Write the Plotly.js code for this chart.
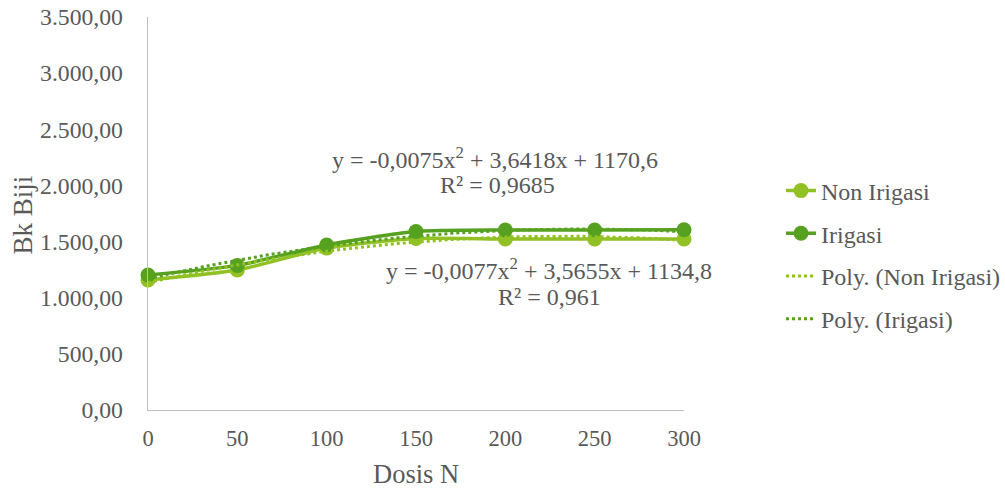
<!DOCTYPE html>
<html>
<head>
<meta charset="utf-8">
<script src="https://cdn.plot.ly/plotly-3.0.1.min.js"></script>
<style>html,body{margin:0;padding:0;background:#fff}#chart{width:1005px;height:490px}</style>
</head>
<body>
<div id="chart"></div>
<script>
var dosis = [0, 50, 100, 150, 200, 250, 300];
var nonIrigasi = [1158, 1247, 1442, 1528, 1523, 1523, 1523];
var irigasi = [1202, 1288, 1470, 1590, 1603, 1603, 1605];
// displayed trendline coefficients [a, b, c] for y = a x^2 + b x + c
var polyNon = [-0.0077, 3.5655, 1134.8];
var polyIrr = [-0.0075, 3.6418, 1170.6];
var yTicks = [0, 500, 1000, 1500, 2000, 2500, 3000, 3500];
var xTicks = [0, 50, 100, 150, 200, 250, 300];

var lightG = '#92c125';
var darkG = '#56a11f';

function trend(c) {
  var xs = [], ys = [];
  for (var x = dosis[0]; x <= dosis[dosis.length - 1]; x += 5) {
    xs.push(x); ys.push(c[0] * x * x + c[1] * x + c[2]);
  }
  return {x: xs, y: ys};
}
var tn = trend(polyNon), ti = trend(polyIrr);

var font = 'Liberation Serif, Times New Roman, serif';
var txt = '#595959';

var traces = [
  {x: dosis, y: nonIrigasi, name: 'Non Irigasi', mode: 'lines+markers', type: 'scatter',
   line: {color: lightG, width: 3.5, shape: 'spline', smoothing: 0.6}, marker: {color: lightG, size: 15},
   cliponaxis: false, legendgroup: 'a'},
  {x: dosis, y: irigasi, name: 'Irigasi', mode: 'lines+markers', type: 'scatter',
   line: {color: darkG, width: 3.5, shape: 'spline', smoothing: 0.6}, marker: {color: darkG, size: 15},
   cliponaxis: false, legendgroup: 'b'},
  {x: tn.x, y: tn.y, name: 'Poly. (Non Irigasi)', mode: 'lines', type: 'scatter',
   line: {color: lightG, width: 3, dash: 'dot'}, cliponaxis: false, legendgroup: 'c'},
  {x: ti.x, y: ti.y, name: 'Poly. (Irigasi)', mode: 'lines', type: 'scatter',
   line: {color: darkG, width: 3, dash: 'dot'}, cliponaxis: false, legendgroup: 'd'}
];

var annFont = {family: font, size: 24, color: txt};
function ann(px, py, text) {
  return {xref: 'paper', yref: 'paper', x: (px - 148) / 536, y: (410 - py) / 393,
          xanchor: 'center', yanchor: 'middle', showarrow: false, text: text, font: annFont};
}
var layout = {
  width: 1005, height: 490,
  margin: {l: 148, r: 321, t: 17, b: 80},
  paper_bgcolor: '#fff', plot_bgcolor: '#fff',
  separators: ',.',
  font: {family: font, color: txt, size: 24},
  showlegend: true,
  legend: {xref: 'container', yref: 'container', x: 781 / 1005, xanchor: 'left',
           y: 1 - 255 / 490, yanchor: 'middle',
           font: {family: font, size: 24, color: txt}, tracegroupgap: 8.5,
           traceorder: 'grouped', bgcolor: 'rgba(0,0,0,0)'},
  xaxis: {range: [0, 300], tickvals: xTicks, showgrid: false, zeroline: false, automargin: false,
          showline: true, linecolor: '#bfbfbf', linewidth: 1.3, ticks: '',
          ticklabelstandoff: 8,
          tickfont: {family: font, size: 22.5, color: txt}},
  yaxis: {range: [0, 3500], tickvals: yTicks, tickformat: ',.2f', showgrid: false, zeroline: false, automargin: false,
          showline: true, linecolor: '#bfbfbf', linewidth: 1.3, ticks: '',
          ticklabelstandoff: 19,
          tickfont: {family: font, size: 23.7, color: txt}},
  annotations: [
    {xref: 'paper', yref: 'paper', x: (22.5 - 148) / 536, y: (410 - 215) / 393, xanchor: 'center', yanchor: 'middle',
     textangle: -90, showarrow: false, text: 'Bk Biji', font: {family: font, size: 27, color: txt}},
    {xref: 'paper', yref: 'paper', x: (415.5 - 148) / 536, y: (410 - 474) / 393, xanchor: 'center', yanchor: 'middle',
     showarrow: false, text: 'Dosis N', font: {family: font, size: 26.5, color: txt}},
    ann(495, 158, 'y = -0,0075x<sup>2</sup> + 3,6418x + 1170,6'),
    ann(497, 185, 'R² = 0,9685'),
    ann(549, 269, 'y = -0,0077x<sup>2</sup> + 3,5655x + 1134,8'),
    ann(549, 297, 'R² = 0,961')
  ]
};

Plotly.newPlot('chart', traces, layout, {displayModeBar: false, staticPlot: true});
</script>
</body>
</html>
